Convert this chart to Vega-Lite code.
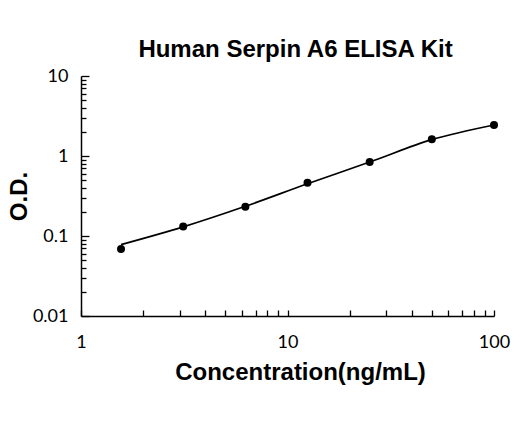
{
  "$schema": "https://vega.github.io/schema/vega-lite/v6.json",
  "autosize": {"type": "none"},
  "padding": {"left": 81, "top": 76, "right": 26, "bottom": 105},
  "width": 413,
  "height": 240,
  "background": "white",
  "title": {
    "text": "Human Serpin A6 ELISA Kit",
    "font": "Liberation Sans",
    "fontSize": 24,
    "fontWeight": "bold",
    "color": "black",
    "anchor": "middle",
    "dx": 8,
    "offset": 5
  },
  "datasets": {
    "points": [
      {"conc": 1.5625, "od": 0.069},
      {"conc": 3.125, "od": 0.131},
      {"conc": 6.25, "od": 0.232},
      {"conc": 12.5, "od": 0.464},
      {"conc": 25, "od": 0.841},
      {"conc": 50, "od": 1.62},
      {"conc": 100, "od": 2.44}
    ],
    "fit": [
      {"conc": 1.5625, "od": 0.078},
      {"conc": 3.125, "od": 0.13},
      {"conc": 6.25, "od": 0.235},
      {"conc": 12.5, "od": 0.45},
      {"conc": 25, "od": 0.84},
      {"conc": 50, "od": 1.6},
      {"conc": 100, "od": 2.44}
    ]
  },
  "encoding": {
    "x": {
      "field": "conc",
      "type": "quantitative",
      "scale": {"type": "log", "domain": [1, 100], "nice": false},
      "axis": {
        "title": "Concentration(ng/mL)",
        "values": [1, 2, 3, 4, 5, 6, 7, 8, 9, 10, 20, 30, 40, 50, 60, 70, 80, 90, 100],
        "labelExpr": "indexof([1, 10, 100], datum.value) >= 0 ? format(datum.value, 'd') : ''",
        "labelOverlap": false,
        "labelFlush": false,
        "labelBound": false,
        "labelFont": "Lato",
        "labelFontSize": 18,
        "labelColor": "black",
        "labelPadding": 23,
        "tickSize": -6,
        "tickWidth": 1.3,
        "tickColor": "black",
        "domainColor": "black",
        "domainWidth": 1.5,
        "grid": false,
        "titleFont": "Liberation Sans",
        "titleFontSize": 24,
        "titleFontWeight": "bold",
        "titleColor": "black",
        "titleX": 219,
        "titleY": 63,
        "titleBaseline": "alphabetic"
      }
    },
    "y": {
      "field": "od",
      "type": "quantitative",
      "scale": {"type": "log", "domain": [0.01, 10], "nice": false},
      "axis": {
        "title": "O.D.",
        "values": [0.01, 0.02, 0.03, 0.04, 0.05, 0.06, 0.07, 0.08, 0.09, 0.1, 0.2, 0.3, 0.4, 0.5, 0.6, 0.7, 0.8, 0.9, 1, 2, 3, 4, 5, 6, 7, 8, 9, 10],
        "labelExpr": "indexof([0.01, 0.1, 1, 10], datum.value) >= 0 ? format(datum.value, '~g') : ''",
        "labelOverlap": false,
        "labelFlush": false,
        "labelBound": false,
        "labelFont": "Lato",
        "labelFontSize": 18,
        "labelColor": "black",
        "labelPadding": 21,
        "tickSize": {"condition": {"test": "indexof([0.01, 0.1, 1, 10], datum.value) >= 0", "value": -8}, "value": -5},
        "tickWidth": 1.3,
        "tickColor": "black",
        "domainColor": "black",
        "domainWidth": 1.5,
        "grid": false,
        "titleFont": "Liberation Sans",
        "titleFontSize": 24,
        "titleFontWeight": "bold",
        "titleColor": "black",
        "titleAngle": -90,
        "titleX": -62,
        "titleY": 120,
        "titleAlign": "center",
        "titleBaseline": "middle"
      }
    }
  },
  "layer": [
    {
      "data": {"name": "fit"},
      "mark": {"type": "line", "interpolate": "monotone", "color": "black", "strokeWidth": 1.7}
    },
    {
      "data": {"name": "points"},
      "mark": {"type": "point", "filled": true, "color": "black", "opacity": 1, "size": 64}
    }
  ],
  "config": {"view": {"stroke": null}}
}
